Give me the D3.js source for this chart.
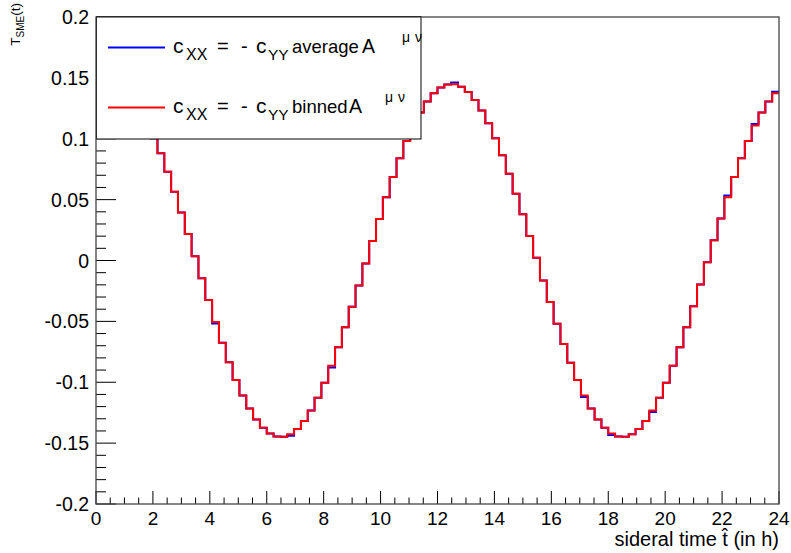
<!DOCTYPE html>
<html lang="en">
<head>
  <meta charset="utf-8">
  <title>T_SME vs sideral time</title>
  <style>
    body { margin:0; background:#fff; }
    svg  { display:block; }
    text { font-family: "Liberation Sans", Arial, Helvetica, sans-serif; fill:#000; }
  </style>
</head>
<body>
<script src="https://d3js.org/d3.v7.min.js"></script>
<script>

// -- data: 100 bins over sidereal time 0..24 h --
const tRange = [0, 24];
const nBins = 100;

// c_XX = - c_YY, binned A^{mu nu} (red)
const binnedA = [
   0.1421,  0.1446,  0.1448,  0.1427,  0.1384,  0.1318,  0.1232,  0.1127,  0.1004,  0.0880,
   0.0728,  0.0565,  0.0395,  0.0218,  0.0035, -0.0145, -0.0325, -0.0505, -0.0675, -0.0835,
  -0.0981, -0.1108, -0.1216, -0.1305, -0.1374, -0.1421, -0.1446, -0.1448, -0.1427, -0.1384,
  -0.1318, -0.1232, -0.1127, -0.1004, -0.0865, -0.0712, -0.0548, -0.0380, -0.0205, -0.0025,
   0.0160,  0.0340,  0.0520,  0.0685,  0.0840,  0.0981,  0.1108,  0.1216,  0.1305,  0.1374,
   0.1421,  0.1446,  0.1448,  0.1427,  0.1384,  0.1318,  0.1232,  0.1127,  0.1004,  0.0865,
   0.0712,  0.0548,  0.0380,  0.0202,  0.0022, -0.0165, -0.0340, -0.0520, -0.0685, -0.0840,
  -0.0981, -0.1108, -0.1216, -0.1305, -0.1374, -0.1421, -0.1446, -0.1448, -0.1427, -0.1384,
  -0.1318, -0.1232, -0.1127, -0.1004, -0.0865, -0.0712, -0.0548, -0.0375, -0.0197, -0.0015,
   0.0167,  0.0346,  0.0520,  0.0685,  0.0840,  0.0981,  0.1108,  0.1216,  0.1305,  0.1374
];

// c_XX = - c_YY, average A^{mu nu} (blue)
const averageA = [
   0.1421,  0.1446,  0.1448,  0.1427,  0.1384,  0.1318,  0.1232,  0.1127,  0.1004,  0.0880,
   0.0728,  0.0565,  0.0395,  0.0218,  0.0035, -0.0145, -0.0325, -0.0518, -0.0675, -0.0835,
  -0.0981, -0.1108, -0.1216, -0.1305, -0.1374, -0.1421, -0.1446, -0.1448, -0.1440, -0.1384,
  -0.1318, -0.1232, -0.1127, -0.1004, -0.0878, -0.0712, -0.0548, -0.0380, -0.0205, -0.0025,
   0.0160,  0.0340,  0.0520,  0.0685,  0.0840,  0.0981,  0.1108,  0.1216,  0.1305,  0.1374,
   0.1421,  0.1446,  0.1461,  0.1427,  0.1384,  0.1318,  0.1232,  0.1127,  0.1004,  0.0865,
   0.0712,  0.0548,  0.0380,  0.0202,  0.0022, -0.0165, -0.0340, -0.0520, -0.0685, -0.0840,
  -0.0981, -0.1121, -0.1216, -0.1305, -0.1374, -0.1434, -0.1446, -0.1448, -0.1427, -0.1384,
  -0.1318, -0.1245, -0.1127, -0.1004, -0.0865, -0.0712, -0.0548, -0.0375, -0.0197, -0.0015,
   0.0167,  0.0346,  0.0533,  0.0685,  0.0840,  0.0981,  0.1121,  0.1216,  0.1305,  0.1387
];

const xTicks = d3.range(0, 24.01, 2);
const xMinor = d3.range(0, 24.01, 0.5);
const yTicks = [-0.2, -0.15, -0.1, -0.05, 0, 0.05, 0.1, 0.15, 0.2];
const yMinor = d3.range(-20, 20.5, 1).map(d => d / 100);

// -- layout --
const width = 791, height = 553;
const margin = { left: 96, right: 12, top: 17, bottom: 49 };

const x = d3.scaleLinear().domain(tRange).range([margin.left, width - margin.right]);
const y = d3.scaleLinear().domain([-0.2, 0.2]).range([height - margin.bottom, margin.top]);

const svg = d3.select("body").append("svg")
  .attr("width", width)
  .attr("height", height);

// -- histograms (step lines) --
const binW = (tRange[1] - tRange[0]) / nBins;
const stepPoints = vals => {
  const pts = vals.map((v, i) => [tRange[0] + i * binW, v]);
  pts.push([tRange[1], vals[vals.length - 1]]);
  return pts;
};
const step = d3.line()
  .x(d => x(d[0]))
  .y(d => y(d[1]))
  .curve(d3.curveStepAfter);

const series = [
  { name: "average", values: averageA, color: "#0000ff" },
  { name: "binned",  values: binnedA,  color: "#ff0000" }
];

svg.append("g")
  .selectAll("path")
  .data(series)
  .join("path")
    .attr("d", d => step(stepPoints(d.values)))
    .attr("fill", "none")
    .attr("stroke", d => d.color)
    .attr("stroke-width", 2);

// -- axes (ROOT style: ticks pointing inward) --
const x0 = x.range()[0], x1 = x.range()[1];
const yb = y.range()[0], yt = y.range()[1];

const axes = svg.append("g").attr("stroke", "#000").attr("stroke-width", 1);

axes.selectAll("line.xt")
  .data(xMinor)
  .join("line")
    .attr("class", "xt")
    .attr("x1", d => x(d)).attr("x2", d => x(d))
    .attr("y1", yb).attr("y2", d => yb - (d % 2 === 0 ? 13 : 6.5));

axes.selectAll("line.yt")
  .data(yMinor)
  .join("line")
    .attr("class", "yt")
    .attr("y1", d => y(d)).attr("y2", d => y(d))
    .attr("x1", x0).attr("x2", d => x0 + (Math.round(d * 100) % 5 === 0 ? 20 : 10));

// tick labels
svg.append("g")
  .selectAll("text")
  .data(xTicks)
  .join("text")
    .attr("x", d => x(d))
    .attr("y", 525)
    .attr("text-anchor", "middle")
    .style("font-size", "19px")
    .text(d => d);

svg.append("g")
  .selectAll("text")
  .data(yTicks)
  .join("text")
    .attr("x", 89)
    .attr("y", d => y(d))
    .attr("dy", "0.36em")
    .attr("text-anchor", "end")
    .style("font-size", "19.5px")
    .text(d => String(+d.toFixed(2)));

// axis titles
svg.append("text")
  .attr("x", x1)
  .attr("y", 546)
  .attr("text-anchor", "end")
  .style("font-size", "20px")
  .text("sideral time t\u0302 (in h)");

const yTitle = svg.append("text")
  .attr("transform", "translate(20,3) rotate(-90)")
  .attr("text-anchor", "end")
  .style("font-size", "13.5px");
yTitle.append("tspan").text("T");
yTitle.append("tspan").attr("dy", 4).style("font-size", "10px").text("SME");
yTitle.append("tspan").attr("dy", -4).text("(t)");

// -- legend --
const legend = svg.append("g");
legend.append("rect")
  .attr("x", 96.5).attr("y", 16.5)
  .attr("width", 324.5).attr("height", 122.5)
  .attr("fill", "#fff")
  .attr("stroke", "#000")
  .attr("stroke-width", 1);

const legendRows = [
  { label: "average", color: "#0000ff", y: 47.5,  aX: 362, muX: 402, nuX: 415 },
  { label: "binned",  color: "#ff0000", y: 107.5, aX: 349, muX: 385, nuX: 398 }
];

legendRows.forEach(r => {
  legend.append("line")
    .attr("x1", 108).attr("x2", 165)
    .attr("y1", r.y).attr("y2", r.y)
    .attr("stroke", r.color)
    .attr("stroke-width", 2);

  const base = r.y + 5;
  const pieces = [
    { t: "c",  x: 173, dy: 0,  size: 21 },
    { t: "XX", x: 186, dy: 7,  size: 16 },
    { t: "=",  x: 217, dy: 0,  size: 20 },
    { t: "-",  x: 241, dy: 0,  size: 20 },
    { t: "c",  x: 256, dy: 0,  size: 21 },
    { t: "YY", x: 268, dy: 7,  size: 15.5 },
    { t: r.label, x: 292, dy: 0, size: 18.5 },
    { t: "A",  x: r.aX, dy: 0, size: 19.5 },
    { t: "\u03bc", x: r.muX, dy: -11, size: 14 },
    { t: "\u03bd", x: r.nuX, dy: -11, size: 14 }
  ];
  legend.append("g")
    .selectAll("text")
    .data(pieces)
    .join("text")
      .attr("x", d => d.x)
      .attr("y", d => base + d.dy)
      .style("font-size", d => d.size + "px")
      .text(d => d.t);
});

// -- frame on top --
svg.append("rect")
  .attr("x", x0).attr("y", yt)
  .attr("width", x1 - x0).attr("height", yb - yt)
  .attr("fill", "none")
  .attr("stroke", "#444")
  .attr("stroke-width", 1.3);

</script>
</body>
</html>
